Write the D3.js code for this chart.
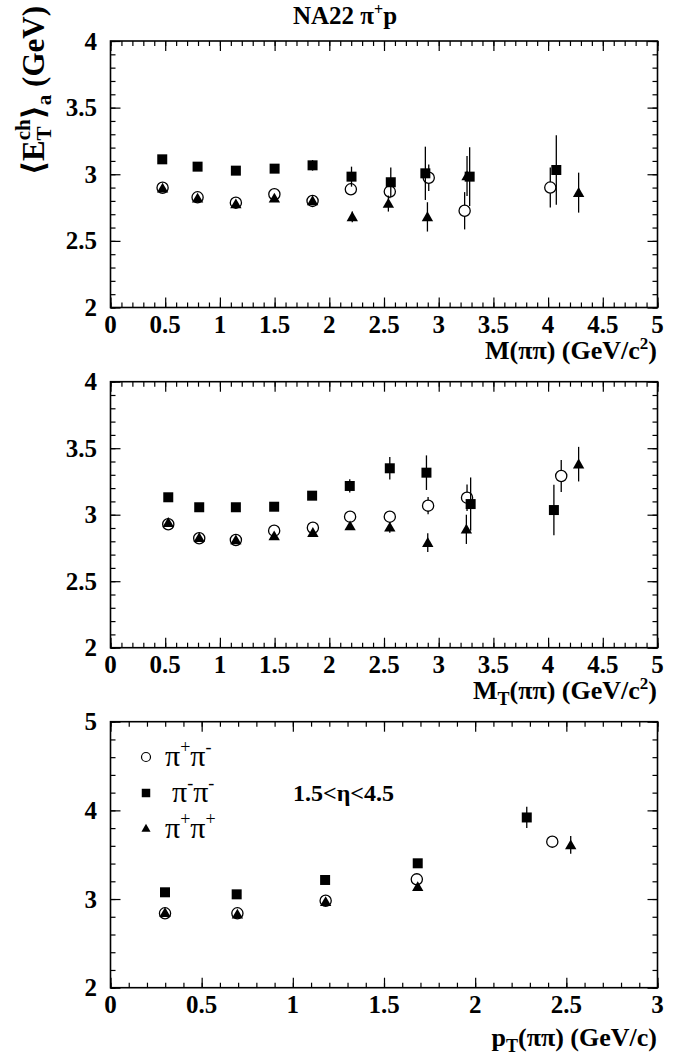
<!DOCTYPE html>
<html>
<head>
<meta charset="utf-8">
<script src="https://cdn.jsdelivr.net/npm/d3@7"></script>
<style>
  body { margin: 0; background: #fff; }
  svg { display: block; }
  svg text { font-family: "Liberation Serif", "DejaVu Serif", serif; fill: #000; }
  .lab { font-weight: bold; font-size: 25px; }
</style>
</head>
<body>
<div id="chart"></div>
<script>
// ---- data ----
// panel 1: vs M(pi pi)
const massPM_x = [0.476, 0.796, 1.146, 1.498, 1.847, 2.197, 2.553, 2.909, 3.237, 4.02];
const massPM_y = [2.899, 2.827, 2.787, 2.85, 2.80, 2.887, 2.87, 2.974, 2.726, 2.90];
const massPM_e = [0.02, 0.02, 0.02, 0.02, 0.02, 0.03, 0.05, 0.10, 0.14, 0.15];
const massMM_x = [0.473, 0.796, 1.146, 1.50, 1.847, 2.203, 2.562, 2.878, 3.283, 4.075];
const massMM_y = [3.112, 3.057, 3.027, 3.042, 3.067, 2.982, 2.94, 3.007, 2.982, 3.032];
const massMM_e = [0.02, 0.02, 0.02, 0.02, 0.04, 0.075, 0.11, 0.20, 0.22, 0.26];
const massPP_x = [0.476, 0.796, 1.146, 1.498, 1.847, 2.21, 2.54, 2.897, 3.259, 4.279];
const massPP_y = [2.895, 2.82, 2.777, 2.82, 2.80, 2.68, 2.78, 2.68, 2.987, 2.862];
const massPP_e = [0.02, 0.02, 0.02, 0.02, 0.02, 0.04, 0.06, 0.11, 0.15, 0.15];

// panel 2: vs M_T(pi pi)
const mtPM_x = [0.528, 0.811, 1.146, 1.496, 1.85, 2.19, 2.553, 2.903, 3.259, 4.12];
const mtPM_y = [2.928, 2.823, 2.81, 2.88, 2.902, 2.985, 2.985, 3.068, 3.128, 3.291];
const mtPM_e = [0.02, 0.02, 0.02, 0.02, 0.02, 0.03, 0.03, 0.065, 0.10, 0.12];
const mtMM_x = [0.528, 0.811, 1.146, 1.496, 1.843, 2.187, 2.553, 2.888, 3.292, 4.053];
const mtMM_y = [3.131, 3.056, 3.056, 3.06, 3.143, 3.216, 3.349, 3.316, 3.08, 3.035];
const mtMM_e = [0.02, 0.02, 0.02, 0.02, 0.02, 0.05, 0.085, 0.13, 0.20, 0.19];
const mtPP_x = [0.528, 0.811, 1.146, 1.496, 1.85, 2.19, 2.553, 2.90, 3.253, 4.279];
const mtPP_y = [2.94, 2.827, 2.81, 2.84, 2.865, 2.915, 2.905, 2.79, 2.89, 3.38];
const mtPP_e = [0.02, 0.02, 0.02, 0.02, 0.02, 0.02, 0.04, 0.07, 0.11, 0.13];

// panel 3: vs p_T(pi pi)
const ptPM_x = [0.299, 0.696, 1.18, 1.68, 2.423];
const ptPM_y = [2.839, 2.839, 2.981, 3.222, 3.647];
const ptPM_e = [0.02, 0.02, 0.02, 0.03, 0.05];
const ptMM_x = [0.299, 0.692, 1.177, 1.685, 2.283];
const ptMM_y = [3.076, 3.053, 3.215, 3.403, 3.92];
const ptMM_e = [0.02, 0.02, 0.02, 0.03, 0.12];
const ptPP_x = [0.299, 0.696, 1.18, 1.685, 2.524];
const ptPP_y = [2.845, 2.828, 2.97, 3.139, 3.61];
const ptPP_e = [0.02, 0.02, 0.02, 0.03, 0.10];

const zip = (xs, ys, es) => xs.map((x, i) => ({x: x, y: ys[i], e: es[i]}));

const W = 691, H = 1059;
const svg = d3.select("#chart").append("svg").attr("width", W).attr("height", H);

const left = 110.5, right = 657.5;

const panels = [
  { top: 41, bottom: 307.5, xdom: [0, 5], ydom: [2, 4], xmaj: 0.5, xmin: 0.1, ymaj: 0.5, ymin: 0.1,
    series: [zip(massPM_x, massPM_y, massPM_e), zip(massMM_x, massMM_y, massMM_e), zip(massPP_x, massPP_y, massPP_e)],
    xtitle: "M", xsub: null, xunit: "c2", xtitleY: 359 },
  { top: 381.7, bottom: 647.7, xdom: [0, 5], ydom: [2, 4], xmaj: 0.5, xmin: 0.1, ymaj: 0.5, ymin: 0.1,
    series: [zip(mtPM_x, mtPM_y, mtPM_e), zip(mtMM_x, mtMM_y, mtMM_e), zip(mtPP_x, mtPP_y, mtPP_e)],
    xtitle: "M", xsub: "T", xunit: "c2", xtitleY: 699 },
  { top: 721.7, bottom: 987.7, xdom: [0, 3], ydom: [2, 5], xmaj: 0.5, xmin: 0.1, ymaj: 1, ymin: 0.2,
    series: [zip(ptPM_x, ptPM_y, ptPM_e), zip(ptMM_x, ptMM_y, ptMM_e), zip(ptPP_x, ptPP_y, ptPP_e)],
    xtitle: "p", xsub: "T", xunit: "c", xtitleY: 1046 }
];

const range = (a, b, s) => d3.range(Math.round((b - a) / s) + 1).map(i => +(a + i * s).toFixed(4));
const fmt = d => d3.format("~g")(d);

const sqr = d3.symbol().type(d3.symbolSquare).size(100);
const tri = d3.symbol().type(d3.symbolTriangle).size(56);

function drawMarkers(g, data, kind, x, y) {
  if (kind === 0) {
    g.selectAll(null).data(data).enter().append("circle")
      .attr("cx", d => x(d.x)).attr("cy", d => y(d.y)).attr("r", 5.6)
      .attr("fill", "#fff").attr("stroke", "#000").attr("stroke-width", 1.3);
  } else {
    g.selectAll(null).data(data).enter().append("path")
      .attr("d", kind === 1 ? sqr : tri)
      .attr("transform", d => `translate(${x(d.x)},${y(d.y) + (kind === 2 ? 1 : 0)})`)
      .attr("fill", "#000");
  }
}

panels.forEach(p => {
  const x = d3.scaleLinear().domain(p.xdom).range([left, right]);
  const y = d3.scaleLinear().domain(p.ydom).range([p.bottom, p.top]);
  const g = svg.append("g");

  const xMinor = range(p.xdom[0], p.xdom[1], p.xmin);
  const xMajor = range(p.xdom[0], p.xdom[1], p.xmaj);
  const yMinor = range(p.ydom[0], p.ydom[1], p.ymin);
  const yMajor = range(p.ydom[0], p.ydom[1], p.ymaj);

  // ticks pointing inward on all four sides
  const tickAxes = [
    [d3.axisBottom(x), p.bottom, xMinor, xMajor, "x"],
    [d3.axisTop(x), p.top, xMinor, xMajor, "x"],
    [d3.axisLeft(y), left, yMinor, yMajor, "y"],
    [d3.axisRight(y), right, yMinor, yMajor, "y"]
  ];
  tickAxes.forEach(([ax, pos, mn, mj, dir]) => {
    [[mn, -5], [mj, -10]].forEach(([vals, size]) => {
      const a = g.append("g")
        .attr("transform", dir === "x" ? `translate(0,${pos})` : `translate(${pos},0)`)
        .call(ax.tickValues(vals).tickSize(size).tickFormat(""));
      a.select(".domain").remove();
      a.selectAll("text").remove();
      a.selectAll("line").attr("stroke", "#000").attr("stroke-width", 1.2);
    });
  });

  g.append("rect")
    .attr("x", left).attr("y", p.top)
    .attr("width", right - left).attr("height", p.bottom - p.top)
    .attr("fill", "none").attr("stroke", "#000").attr("stroke-width", 1.6);

  // tick labels
  g.selectAll(null).data(xMajor).enter().append("text")
    .attr("class", "lab").attr("text-anchor", "middle")
    .attr("x", d => x(d)).attr("y", p.bottom + 25)
    .text(fmt);
  g.selectAll(null).data(yMajor).enter().append("text")
    .attr("class", "lab").attr("text-anchor", "end")
    .attr("x", 97).attr("y", d => y(d) + 8.5)
    .text(fmt);

  // x-axis title
  const t = g.append("text").attr("class", "lab").style("font-size", "26px")
    .attr("text-anchor", "end").attr("x", 657).attr("y", p.xtitleY);
  t.append("tspan").text(p.xtitle);
  if (p.xsub) t.append("tspan").attr("dy", 6).style("font-size", "18px").text(p.xsub);
  t.append("tspan").attr("dy", p.xsub ? -6 : 0).text("(ππ) (GeV/");
  if (p.xunit === "c2") {
    t.append("tspan").text("c");
    t.append("tspan").attr("dy", -10).style("font-size", "17px").text("2");
    t.append("tspan").attr("dy", 10).text(")");
  } else {
    t.append("tspan").text("c)");
  }

  // error bars then markers, one series at a time
  p.series.forEach((data, k) => {
    g.selectAll(null).data(data).enter().append("line")
      .attr("x1", d => x(d.x)).attr("x2", d => x(d.x))
      .attr("y1", d => y(d.y - d.e)).attr("y2", d => y(d.y + d.e))
      .attr("stroke", "#000").attr("stroke-width", 1.3);
    drawMarkers(g, data, k, x, y);
  });
});

// overall title
const title = svg.append("text").attr("class", "lab").style("font-size", "25px")
  .attr("text-anchor", "middle").attr("x", 345).attr("y", 24);
title.append("tspan").text("NA22 π");
title.append("tspan").attr("dy", -9).style("font-size", "16px").text("+");
title.append("tspan").attr("dy", 9).text("p");

// y-axis title of top panel
const yt = svg.append("text").attr("class", "lab").style("font-size", "31px")
  .attr("text-anchor", "end")
  .attr("transform", "translate(44,6) rotate(-90)");
yt.append("tspan").text("⟨E");
yt.append("tspan").attr("dy", 7).style("font-size", "21px").text("T");
yt.append("tspan").attr("dx", -12).attr("dy", -21).style("font-size", "21px").text("ch");
yt.append("tspan").attr("dy", 14).text("⟩");
yt.append("tspan").attr("dy", 7).style("font-size", "21px").text("a");
yt.append("tspan").attr("dy", -7).text(" (GeV)");

// legend in bottom panel
const leg = svg.append("g");
const legItems = [
  { kind: 0, cy: 757, tx: 165, ty: 766, a: "+", b: "-" },
  { kind: 1, cy: 793, tx: 172, ty: 802, a: "-", b: "-" },
  { kind: 2, cy: 829, tx: 165, ty: 838, a: "+", b: "+" }
];
legItems.forEach(it => {
  if (it.kind === 0) {
    leg.append("circle").attr("cx", 146).attr("cy", it.cy).attr("r", 4.5)
      .attr("fill", "#fff").attr("stroke", "#000").attr("stroke-width", 1.2);
  } else {
    leg.append("path")
      .attr("d", it.kind === 1 ? d3.symbol().type(d3.symbolSquare).size(72) : d3.symbol().type(d3.symbolTriangle).size(36))
      .attr("transform", `translate(146,${it.cy})`);
  }
  const tx = leg.append("text").style("font-size", "30px").attr("x", it.tx).attr("y", it.ty);
  tx.append("tspan").text("π");
  tx.append("tspan").attr("dy", -13).style("font-size", "18px").text(it.a);
  tx.append("tspan").attr("dy", 13).text("π");
  tx.append("tspan").attr("dy", -13).style("font-size", "18px").text(it.b);
});
svg.append("text").attr("class", "lab").style("font-size", "24px")
  .attr("x", 293).attr("y", 801).text("1.5<η<4.5");
</script>
</body>
</html>
